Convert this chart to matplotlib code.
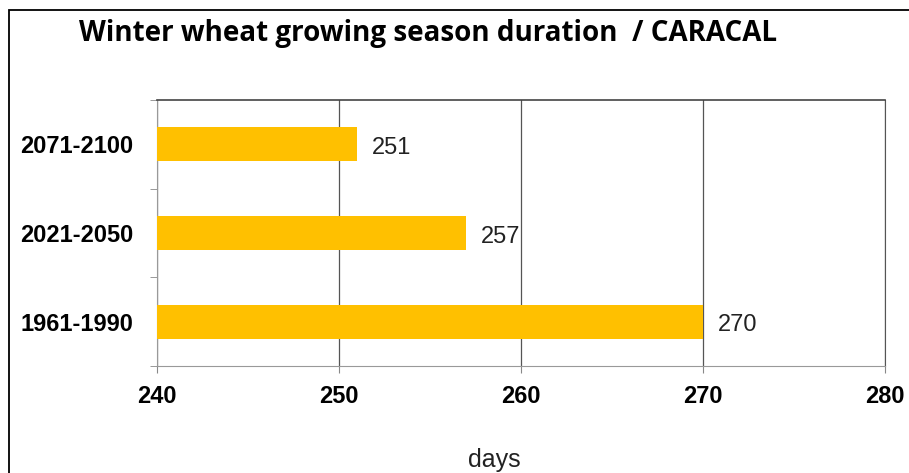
import matplotlib.pyplot as plt
from matplotlib.patches import Rectangle

periods = ["1961-1990", "2021-2050", "2071-2100"]
days = [270, 257, 251]
xticks = [240, 250, 260, 270, 280]

W, H = 909, 473
fig = plt.figure(figsize=(W / 100, H / 100), dpi=100)

# outer frame
fig.patches.append(Rectangle((9 / W, -0.1), 1.2, 1 - 10 / H + 0.1, transform=fig.transFigure,
                             fill=False, edgecolor="black", linewidth=1.3))

ax = fig.add_axes([157 / W, 1 - 366 / H, (885 - 157) / W, (366 - 100) / H])

ypos = range(len(periods))
ax.barh(ypos, [d - 240 for d in days], left=240, height=0.38, color="#FFC000", zorder=3)
for y, d in zip(ypos, days):
    ax.text(d + 0.8, y - 0.04, str(d), va="center", ha="left", fontsize=17,
            family="Liberation Sans", color="#222222")

ax.set_xlim(240, 280)
ax.set_ylim(-0.5, 2.5)
ax.set_xticks(xticks)
ax.set_xticklabels([str(t) for t in xticks], fontsize=17, fontweight="bold", family="Liberation Sans")
ax.set_yticks(list(ypos))
ax.set_yticklabels(periods, fontsize=17, fontweight="bold", family="Liberation Sans")
ax.tick_params(axis="y", length=0, pad=17)
ax.tick_params(axis="x", length=5, color="#888888", pad=9)
# small ticks between categories
ax.set_yticks([-0.5, 0.5, 1.5, 2.5], minor=True)
ax.tick_params(axis="y", which="minor", length=5, color="#888888")

ax.grid(axis="x", color="#555555", linewidth=0.9, zorder=0)
ax.spines["top"].set_color("#444444")
ax.spines["top"].set_linewidth(1.2)
ax.spines["right"].set_color("#555555")
ax.spines["left"].set_color("#999999")
ax.spines["bottom"].set_color("#999999")

fig.text(428 / W, 1 - 34 / H, "Winter wheat growing season duration  / CARACAL", ha="center", va="center",
         fontsize=20, fontweight="bold", family="Open Sans")
fig.text(494 / W, 1 - 460 / H, "days", ha="center", va="center", fontsize=18,
         family="Liberation Sans", color="#222222")

fig.savefig("out.png", dpi=100)
